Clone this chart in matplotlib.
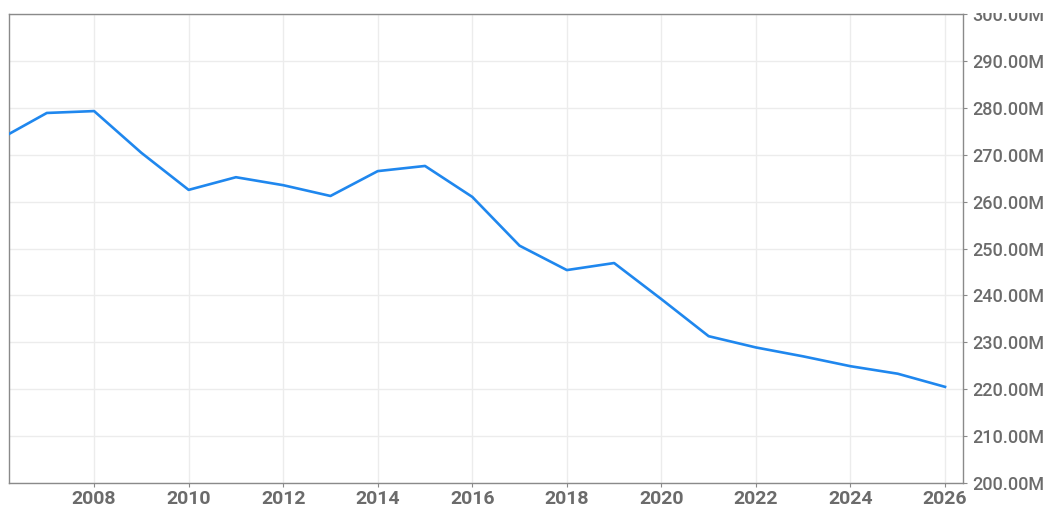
import matplotlib
matplotlib.use("Agg")
import matplotlib.pyplot as plt
from matplotlib.ticker import FuncFormatter, MultipleLocator
from matplotlib.patches import Rectangle

# data (values in millions)
years = [2006, 2007, 2008, 2009, 2010, 2011, 2012, 2013, 2014, 2015, 2016,
         2017, 2018, 2019, 2020, 2021, 2022, 2023, 2024, 2025, 2026]
values = [273.3, 278.9, 279.3, 270.4, 262.5, 265.2, 263.5, 261.2, 266.5, 267.6, 261.0,
          250.6, 245.4, 246.9, 239.2, 231.3, 228.9, 227.0, 224.9, 223.3, 220.5]
x_ticks = [2008, 2010, 2012, 2014, 2016, 2018, 2020, 2022, 2024, 2026]

W, H = 1044, 507
fig = plt.figure(figsize=(W / 100, H / 100), dpi=100)
ax = fig.add_axes([9 / W, (H - 483) / H, (963 - 9) / W, (483 - 14) / H])

ax.plot(years, values, color="#1f87ee", linewidth=1.9, solid_joinstyle="round", zorder=3)

ax.set_xlim(2006.2, 2026.38)
ax.set_ylim(200, 300)
ax.set_xticks(x_ticks)
ax.yaxis.set_major_locator(MultipleLocator(10))
ax.yaxis.tick_right()
ax.yaxis.set_major_formatter(FuncFormatter(lambda v, p: f"{v:.2f}M"))

ax.grid(True, color="#ececec", linewidth=1.0, zorder=0)
for s in ax.spines.values():
    s.set_color("#8a8a8a")
    s.set_linewidth(1.0)

ax.tick_params(axis="both", colors="#8a8a8a", length=3, width=0.8, labelcolor="#6b6b6b")
ax.tick_params(axis="x", pad=2, labelsize=14)
ax.tick_params(axis="y", pad=4, labelsize=13)
for lab in ax.get_xticklabels():
    lab.set_fontfamily(["Roboto", "DejaVu Sans"])
    lab.set_fontweight("bold")
for lab in ax.get_yticklabels():
    lab.set_fontfamily(["Roboto", "DejaVu Sans"])
    lab.set_fontweight("medium")

# the top label is cut off in the original
fig.patches.append(Rectangle((965 / W, (H - 13) / H), (W - 965) / W, 13 / H,
                             transform=fig.transFigure, facecolor="white",
                             edgecolor="none", zorder=10))

fig.savefig("out.png", dpi=100, facecolor="white")
